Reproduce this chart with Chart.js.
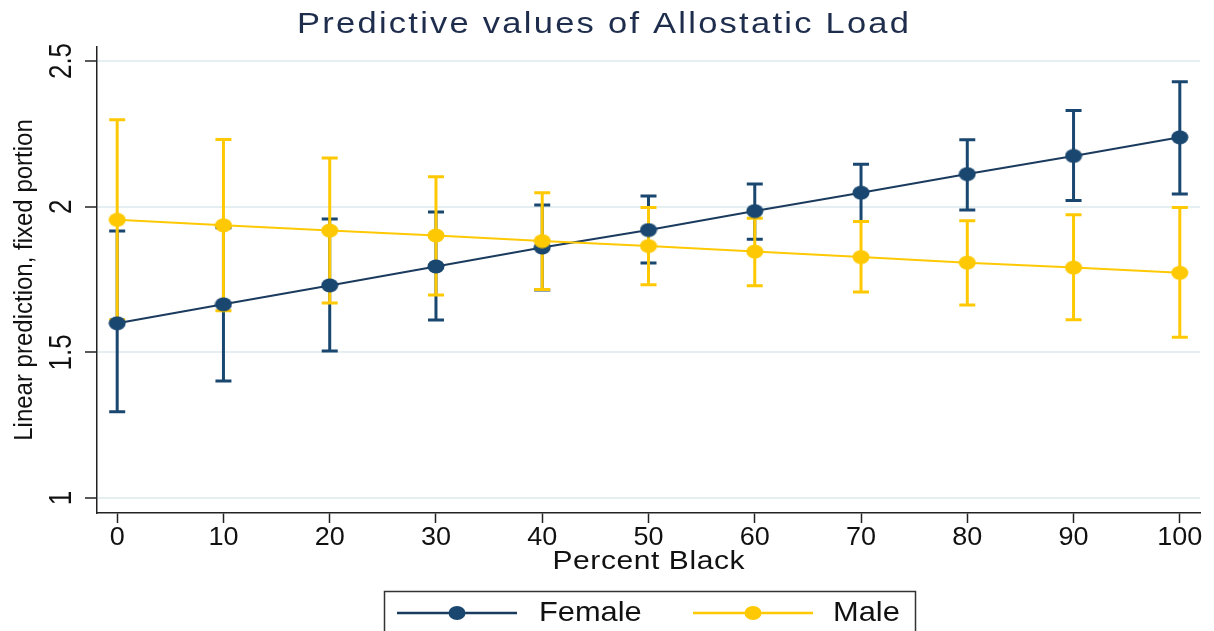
<!DOCTYPE html>
<html>
<head>
<meta charset="utf-8">
<script src="https://cdn.jsdelivr.net/npm/chart.js@4.4.1/dist/chart.umd.min.js"></script>
<style>
  html, body { margin: 0; padding: 0; background: #ffffff; }
  #c { display: block; }
</style>
</head>
<body>
<canvas id="c" width="1214" height="631"></canvas>
<script>
// ---------------- data ----------------
const chartTitle = "Predictive values of Allostatic Load";
const xAxisTitle = "Percent Black";
const yAxisTitle = "Linear prediction, fixed portion";
const seriesNames = ["Female", "Male"];

const percentBlack = [0, 10, 20, 30, 40, 50, 60, 70, 80, 90, 100];

const femaleFit = [1.600, 1.665, 1.730, 1.795, 1.860, 1.920, 1.985, 2.048, 2.112, 2.174, 2.238];
const femaleLo  = [1.296, 1.402, 1.505, 1.611, 1.714, 1.807, 1.888, 1.949, 1.989, 2.021, 2.044];
const femaleHi  = [1.917, 1.928, 1.958, 1.982, 2.006, 2.037, 2.078, 2.146, 2.230, 2.330, 2.429];

const maleFit = [1.955, 1.936, 1.918, 1.901, 1.882, 1.865, 1.846, 1.827, 1.808, 1.791, 1.773];
const maleLo  = [1.612, 1.643, 1.670, 1.697, 1.716, 1.732, 1.729, 1.707, 1.663, 1.612, 1.552];
const maleHi  = [2.298, 2.231, 2.167, 2.103, 2.048, 1.997, 1.960, 1.949, 1.952, 1.972, 1.997];

const xTicks = [0, 10, 20, 30, 40, 50, 60, 70, 80, 90, 100];
const xTickLabels = ["0", "10", "20", "30", "40", "50", "60", "70", "80", "90", "100"];
const yTicks = [1, 1.5, 2, 2.5];
const yTickLabels = ["1", "1.5", "2", "2.5"];

// ---------------- styles ----------------
const NAVY = "#1a476f";
const NAVY_LINE = "#1b3b5e";
const GOLD = "#fec903";
const FONT = "'Liberation Sans', Arial, sans-serif";

function ellipseDot(color, w, h) {
  const c = document.createElement("canvas");
  c.width = w; c.height = h;
  const g = c.getContext("2d");
  g.fillStyle = color;
  g.beginPath();
  g.ellipse(w / 2, h / 2, w / 2 - 0.5, h / 2 - 0.5, 0, 0, Math.PI * 2);
  g.fill();
  return c;
}
const navyDot = ellipseDot(NAVY, 18, 15);
const goldDot = ellipseDot(GOLD, 18, 15);

function txt(ctx, s, x, y, o) {
  ctx.save();
  ctx.translate(x, y);
  if (o.rot) ctx.rotate(o.rot);
  const sx = o.sx || 1;
  ctx.scale(sx, o.sy || 1);
  ctx.font = o.font;
  ctx.textBaseline = "alphabetic";
  ctx.fillStyle = o.color || "#111";
  let ls = 0;
  if (o.w) {
    ctx.letterSpacing = "0px";
    const m = ctx.measureText(s).width * sx;
    ls = Math.max(0, (o.w - m) / Math.max(1, s.length - 1)) / sx;
  }
  ctx.letterSpacing = ls + "px";
  const fullW = ctx.measureText(s).width - ls;
  let x0 = 0;
  if (o.align === "center") x0 = -fullW / 2;
  else if (o.align === "right") x0 = -fullW;
  ctx.textAlign = "left";
  ctx.fillText(s, x0, 0);
  ctx.restore();
}

// error bars (drawn before the lines and markers)
const errorBars = {
  id: "errorBars",
  beforeDatasetsDraw(chart) {
    const ctx = chart.ctx, xs = chart.scales.x, ys = chart.scales.y;
    const groups = [
      { lo: femaleLo, hi: femaleHi, color: NAVY },
      { lo: maleLo, hi: maleHi, color: GOLD }
    ];
    ctx.save();
    ctx.lineCap = "butt";
    groups.forEach(g => {
      ctx.strokeStyle = g.color;
      ctx.lineWidth = 3;
      percentBlack.forEach((v, i) => {
        const x = xs.getPixelForValue(v);
        const y1 = ys.getPixelForValue(g.lo[i]);
        const y2 = ys.getPixelForValue(g.hi[i]);
        ctx.beginPath();
        ctx.moveTo(x, y1); ctx.lineTo(x, y2);
        ctx.moveTo(x - 8, y1); ctx.lineTo(x + 8, y1);
        ctx.moveTo(x - 8, y2); ctx.lineTo(x + 8, y2);
        ctx.stroke();
      });
    });
    ctx.restore();
  }
};

// texts, tick labels and legend
const decorations = {
  id: "decorations",
  afterDraw(chart) {
    const ctx = chart.ctx, xs = chart.scales.x, ys = chart.scales.y;
    const ca = chart.chartArea;
    // title
    txt(ctx, chartTitle, 603, 33, { font: "30px " + FONT, align: "center", color: "#1f2d4d", sx: 1.15, w: 612 });
    // x tick labels
    xTicks.forEach((v, i) => {
      txt(ctx, xTickLabels[i], xs.getPixelForValue(v), 545, { font: "25px " + FONT, align: "center", sx: 1.08 });
    });
    // x title
    txt(ctx, xAxisTitle, (ca.left + ca.right) / 2, 569, { font: "25px " + FONT, align: "center", sx: 1.2, w: 192 });
    // y tick labels (rotated)
    yTicks.forEach((v, i) => {
      txt(ctx, yTickLabels[i], 71, ys.getPixelForValue(v), { font: "26px " + FONT, align: "center", rot: -Math.PI / 2, sy: 1.18 });
    });
    // y title
    txt(ctx, yAxisTitle, 32, (ca.top + ca.bottom) / 2, { font: "24px " + FONT, align: "center", rot: -Math.PI / 2, sy: 1.1, w: 320 });

    // legend
    ctx.save();
    ctx.strokeStyle = "#333";
    ctx.lineWidth = 1.5;
    ctx.strokeRect(384.5, 591.5, 531, 60);
    const items = [
      { name: seriesNames[0], color: NAVY_LINE, dotColor: NAVY, x0: 397, x1: 517, tx: 539, w: 102 },
      { name: seriesNames[1], color: GOLD, dotColor: GOLD, x0: 693, x1: 813, tx: 833, w: 66 }
    ];
    items.forEach(it => {
      ctx.strokeStyle = it.color;
      ctx.lineWidth = 2.5;
      ctx.beginPath();
      ctx.moveTo(it.x0, 613); ctx.lineTo(it.x1, 613);
      ctx.stroke();
      ctx.fillStyle = it.dotColor;
      ctx.beginPath();
      ctx.ellipse((it.x0 + it.x1) / 2, 613, 8.5, 7, 0, 0, Math.PI * 2);
      ctx.fill();
      txt(ctx, it.name, it.tx, 621, { font: "28px " + FONT, align: "left", sx: 1.1, w: it.w });
    });
    ctx.restore();
  }
};

const ctx = document.getElementById("c").getContext("2d");
new Chart(ctx, {
  type: "line",
  data: {
    datasets: [
      {
        label: seriesNames[0],
        data: percentBlack.map((x, i) => ({ x, y: femaleFit[i] })),
        borderColor: NAVY_LINE,
        backgroundColor: NAVY,
        borderWidth: 2,
        pointStyle: navyDot,
        pointRadius: 8,
        tension: 0,
        order: 1
      },
      {
        label: seriesNames[1],
        data: percentBlack.map((x, i) => ({ x, y: maleFit[i] })),
        borderColor: GOLD,
        backgroundColor: GOLD,
        borderWidth: 2,
        pointStyle: goldDot,
        pointRadius: 8,
        tension: 0,
        order: 0
      }
    ]
  },
  options: {
    responsive: false,
    animation: false,
    devicePixelRatio: 1,
    layout: { padding: { left: 0, top: 47, right: 14, bottom: 0 } },
    plugins: {
      legend: { display: false },
      title: { display: false },
      tooltip: { enabled: false }
    },
    scales: {
      x: {
        type: "linear",
        min: -1.9,
        max: 101.9,
        afterBuildTicks: s => { s.ticks = xTicks.map(v => ({ value: v })); },
        afterFit: s => { s.height = 118; },
        ticks: { display: false },
        grid: { drawOnChartArea: false, drawTicks: true, tickLength: 10, tickColor: "#222", tickWidth: 1.5 },
        border: { display: true, color: "#222", width: 1.5 }
      },
      y: {
        type: "linear",
        min: 0.949,
        max: 2.548,
        afterBuildTicks: s => { s.ticks = yTicks.map(v => ({ value: v })); },
        afterFit: s => { s.width = 97; },
        ticks: { display: false },
        grid: { color: "#e5eef1", lineWidth: 2, drawTicks: true, tickLength: 12, tickColor: "#222", tickWidth: 1.5 },
        border: { display: true, color: "#222", width: 1.5 }
      }
    }
  },
  plugins: [errorBars, decorations]
});
</script>
</body>
</html>
